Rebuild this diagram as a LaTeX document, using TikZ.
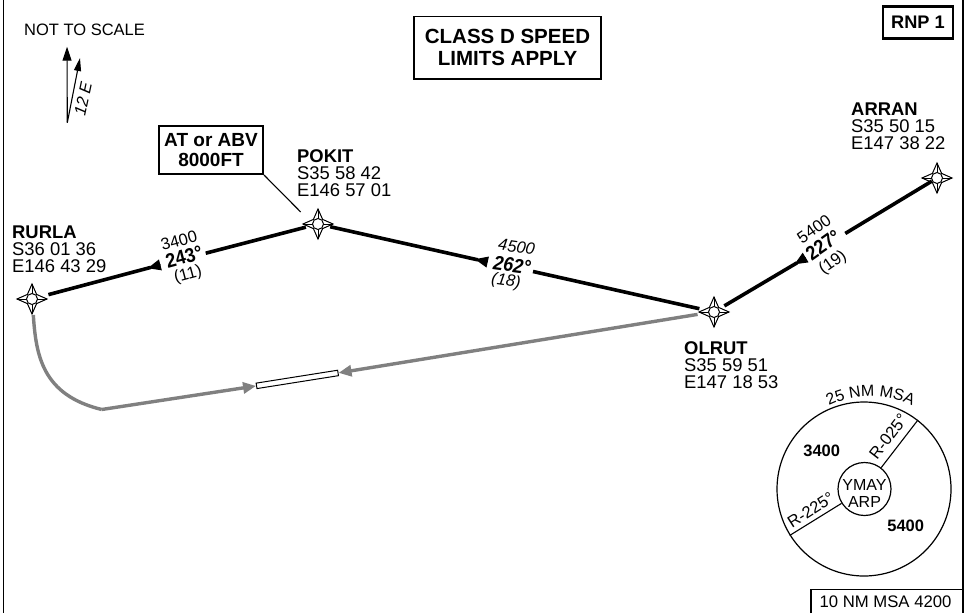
\documentclass[tikz,border=0pt]{standalone}
\usepackage{fontspec}
\setmainfont{Liberation Sans}
\newfontfamily\condsans[FakeStretch=0.9]{Liberation Sans}
\usetikzlibrary{arrows.meta,decorations.text}
\newcommand{\fsz}[2]{\fontsize{#1}{#2}\selectfont}
\definecolor{trackgray}{RGB}{128,128,128}
\tikzset{
  leg/.style={line width=3.6pt,black},
  leghead/.style={line width=1pt,black,-{Triangle[length=13pt,width=11pt]}},
  inbound/.style={line width=3.4pt,trackgray},
  inhead/.style={inbound,-{Triangle[length=13pt,width=11pt]}},
  north/.style={line width=1.1pt,-{Triangle[length=14pt,width=9pt]}},
  hair/.style={line width=1.1pt},
  wpnode/.style={circle,draw,line width=1pt,fill=white,minimum size=11pt,inner sep=0pt},
  fix/.style={align=left,anchor=base west,inner sep=0pt,font=\fsz{18.4}{17}},
  big/.style={draw,line width=2.2pt,fill=white,align=center,inner sep=0pt,font=\fsz{19}{20}\bfseries},
  alt/.style={inner sep=0pt,font=\fsz{16.5}{16}},
  crs/.style={inner sep=0pt,font=\condsans\fsz{20}{18}\bfseries},
  dist/.style={inner sep=0pt,font=\fsz{16.5}{16}},
  msatxt/.style={inner sep=0pt,font=\fsz{16.5}{17}},
  wpstar/.pic={
    \draw[line width=1pt,fill=white] (-15,0)--(-4.6,-4.6)--(0,-15)--(4.6,-4.6)--(15,0)--(4.6,4.6)--(0,15)--(-4.6,4.6)--cycle;
    \draw[line width=0.7pt] (-15,0)--(15,0) (0,-15)--(0,15);
  }
}
\begin{document}
\begin{tikzpicture}[x=1pt,y=-1pt]
\useasboundingbox (0,0) rectangle (965,613);
\fill[white] (0,0) rectangle (965,613);
% frame
\coordinate (fa) at (3.5,0); \coordinate (fb) at (3.5,613);
\coordinate (fc) at (963,0); \coordinate (fd) at (963,613);
\draw[line width=1.8pt] (fa)--(fb);
\draw[line width=1.4pt] (fc)--(fd);
% waypoints
\pic at (32,299) {wpstar}; \node[wpnode] (rurla) at (32,299) {};
\pic at (318,224) {wpstar}; \node[wpnode] (pokit) at (318,224) {};
\pic at (714,312) {wpstar}; \node[wpnode] (olrut) at (714,312) {};
\pic at (937,178) {wpstar}; \node[wpnode] (arran) at (937,178) {};
% legs
\coordinate (a1b) at (160.7,264.8); \coordinate (a1) at (147.8,268.2); \coordinate (g1) at (205.7,253.2);
\coordinate (a2b) at (487.5,262); \coordinate (a2) at (475,259.2); \coordinate (g2) at (533,271.5);
\coordinate (a3b) at (805.7,257.5); \coordinate (a3) at (794.5,264.3); \coordinate (g3) at (842.7,235);
\draw[leg,shorten <=11pt,shorten >=-3pt] (rurla)--(a1);
\draw[leghead] (a1b)--(a1);
\draw[leg,shorten >=6.5pt] (g1)--(pokit);
\draw[leg,shorten <=6.5pt,shorten >=-3pt] (pokit)--(a2);
\draw[leghead] (a2b)--(a2);
\draw[leg,shorten >=9pt] (g2)--(olrut);
\draw[leg,shorten <=3pt] (g3)--(arran);
\draw[leg,shorten <=-3pt,shorten >=6pt] (a3)--(olrut);
\draw[leghead] (a3b)--(a3);
% runway and inbound track
\node[draw,line width=1pt,fill=white,minimum width=82.5pt,minimum height=5.5pt,inner sep=0pt,rotate=9] (rwy) at (297.3,379.4) {};
\coordinate (c0) at (33.3,315);
\coordinate (c1) at (101.7,409.5);
\draw[inbound] (c0) .. controls (36,355) and (42,395) .. (c1);
\draw[inhead] (c1) -- (rwy.west);
\draw[inhead,shorten <=5.5pt] (olrut.west) ++(-5,1.5) -- (rwy.east);
% labels
\node[fix,font=\fsz{16.5}{17}] (nts) at (24,35) {NOT TO SCALE};
\coordinate (n0) at (67.3,122.7); \coordinate (n1) at (67,46.7); \coordinate (n2) at (80,58);
\draw[north] (n0)--(n1);
\draw[north,-{Triangle[length=13pt,width=7pt]}] (n0)--(n2);
\node[inner sep=0pt,rotate=78,font=\fsz{16.5}{17}\itshape] (var) at (83,99) {12 E};
\node[fix] (lrurla) at (12,272) {\textbf{RURLA}\\S36 01 36\\E146 43 29};
\node[fix] (lpokit) at (297,196.7) {\textbf{POKIT}\\S35 58 42\\E146 57 01};
\node[fix] (lolrut) at (684,388) {\textbf{OLRUT}\\S35 59 51\\E147 18 53};
\node[fix] (larran) at (851,149) {\textbf{ARRAN}\\S35 50 15\\E147 38 22};
% leg texts
\node[alt,rotate=15] (t1a) at (179,240.7) {3400};
\node[crs,rotate=15] (t1b) at (184,257) {243°};
\node[dist,rotate=15] (t1c) at (188,275) {(11)};
\node[alt,rotate=-8,font=\fsz{16.5}{16}\itshape] (t2a) at (516.7,246.7) {4500};
\node[crs,rotate=-8,font=\condsans\fsz{20}{18}\bfseries\itshape] (t2b) at (512,265) {262°};
\node[dist,rotate=-8,font=\fsz{16.5}{16}\itshape] (t2c) at (506,281.7) {(18)};
\node[alt,rotate=35] (t3a) at (814,229) {5400};
\node[crs,rotate=35] (t3b) at (823,245) {227°};
\node[dist,rotate=35] (t3c) at (833,263) {(19)};
% boxes
\node[big,line width=1.2pt,minimum width=187pt,minimum height=62.5pt,font=\fsz{20.5}{22}\bfseries] (cls) at (507.5,47.8) {CLASS D SPEED\\LIMITS APPLY};
\node[big,minimum width=70pt,minimum height=32pt,font=\fsz{18.2}{20}\bfseries] (rnp) at (918,22.5) {RNP 1};
\node[big,minimum width=104pt,minimum height=48pt] (atb) at (211,150) {AT or ABV\\8000FT};
\coordinate (lead) at (300.7,212);
\draw[hair] (atb.south east)--(lead);
% MSA
\node[circle,draw,line width=1.2pt,minimum size=174pt,inner sep=0pt] (msa) at (864,489) {};
\node[circle,draw,line width=1.2pt,minimum size=53pt,inner sep=0pt] (arp) at (864.5,489) {};
\draw[hair] (arp.52.5)--(msa.52.5);
\draw[hair] (arp.212.6)--(msa.212.6);
\node[msatxt,align=center,font=\fsz{16}{17}] (ymay) at (864.5,493.5) {YMAY\\ARP};
\node[msatxt,font=\fsz{16.5}{17}\bfseries] (s1) at (821.7,451) {3400};
\node[msatxt,font=\fsz{16.5}{17}\bfseries] (s2) at (905.7,525.7) {5400};
\node[msatxt,rotate=52.5] (r1) at (888.3,436.7) {R-025°};
\node[msatxt,rotate=32.6] (r2) at (810.7,510) {R-225°};
\path[decorate,decoration={text along path,text align=center,text={|\fsz{16}{17}|25 NM MSA}}]
  (790,442.5) .. controls (825.8,380.5) and (915.2,380.5) .. (951,442.5);
% bottom box
\coordinate (b0) at (811,613); \coordinate (b1) at (811,589.5); \coordinate (b2) at (963,589.5);
\draw[line width=1.2pt] (b0)--(b1)--(b2);
\node[inner sep=0pt,font=\fsz{16.7}{17}] (bt) at (885.5,602) {10 NM MSA 4200};
\end{tikzpicture}
\end{document}
